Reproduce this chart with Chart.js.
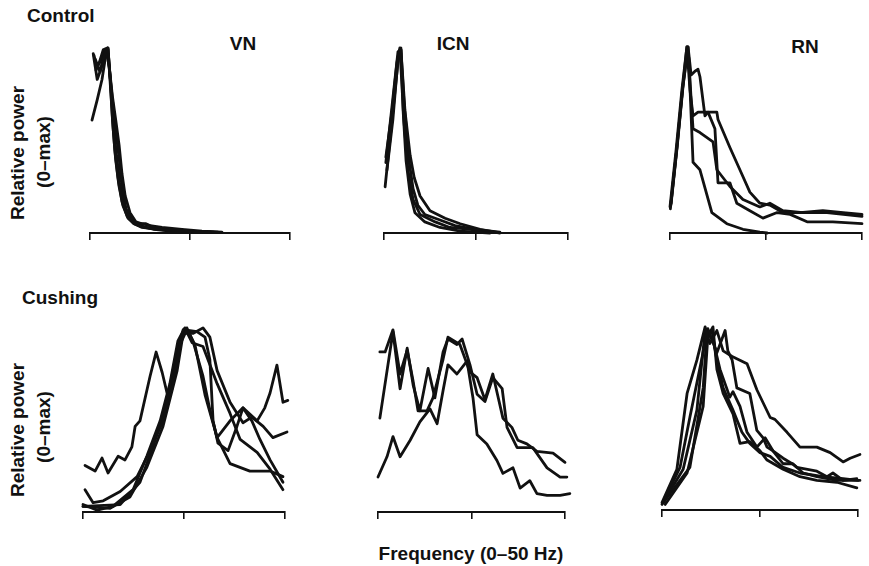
<!DOCTYPE html>
<html>
<head>
<meta charset="utf-8">
<script src="https://cdn.jsdelivr.net/npm/chart.js"></script>
<style>
  html, body { margin: 0; padding: 0; background: #fff; }
  body { width: 869px; height: 566px; position: relative; overflow: hidden; }
  .lbl { position: absolute; font-family: "Liberation Sans", Arial, sans-serif; font-weight: bold;
         font-size: 19px; line-height: 19px; color: #111; white-space: nowrap; }
  .c { transform: translate(-50%, -50%); }
  .v { transform: translate(-50%, -50%) rotate(-90deg); }
  .panel { position: absolute; }
</style>
</head>
<body>

<div class="lbl" style="left:27px; top:6px;">Control</div>
<div class="lbl" style="left:22px; top:288px;">Cushing</div>
<div class="lbl c" style="left:243px; top:43px;">VN</div>
<div class="lbl c" style="left:453px; top:43px;">ICN</div>
<div class="lbl c" style="left:805px; top:46px;">RN</div>
<div class="lbl v" style="left:17px; top:153px;">Relative power</div>
<div class="lbl v" style="left:43px; top:152px;">(0–max)</div>
<div class="lbl v" style="left:17px; top:430px;">Relative power</div>
<div class="lbl v" style="left:43px; top:427px;">(0–max)</div>
<div class="lbl c" style="left:471px; top:553px;">Frequency (0–50 Hz)</div>

<script>
// 주파수(Hz) / 상대 파워(0-max) 데이터 — 각 곡선은 [Hz, power] 쌍
const xTicks = [0, 25, 50];

// Control - VN
const ctrlVN1 = [[0.8,0.97],[1.8,0.83],[2.8,0.89],[3.8,0.98],[4.5,1.0],[5.1,0.82],[5.6,0.62],[6.2,0.45],[7,0.3],[8,0.17],[9.3,0.09],[11,0.05],[13.5,0.03],[17,0.02],[22,0.01],[30,0.005]];
const ctrlVN2 = [[0.5,0.61],[1.8,0.72],[3,0.83],[3.8,0.94],[4.5,0.99],[5.2,0.8],[5.9,0.58],[6.6,0.42],[7.5,0.27],[8.5,0.15],[10,0.08],[12.5,0.04],[16,0.02],[22.5,0.005]];
const ctrlVN3 = [[1,0.96],[1.5,0.91],[2.3,0.92],[3.3,0.99],[4.3,1],[5,0.85],[5.7,0.7],[6.5,0.55],[7.3,0.4],[8.1,0.25],[9,0.13],[10.5,0.07],[12,0.05],[14,0.05],[16,0.03],[20,0.02],[25,0.01],[32,0.005]];
const ctrlVN4 = [[1.3,0.94],[2.5,0.87],[3.5,0.96],[4.5,1],[5.2,0.76],[5.8,0.56],[6.4,0.4],[7.2,0.26],[8.2,0.15],[9.5,0.08],[11,0.05],[13,0.03],[17,0.02],[23,0.01],[31,0.005]];
const ctrlVN5 = [[1.5,0.88],[2.8,0.94],[4,0.99],[4.8,0.9],[5.6,0.74],[6.5,0.6],[7.3,0.47],[8,0.32],[8.8,0.2],[10,0.11],[11.5,0.06],[13,0.05],[15,0.04],[18,0.03],[23,0.02],[28,0.01],[33,0.005]];

// Control - ICN
const ctrlICN1 = [[0.3,0.25],[1.6,0.5],[3,0.77],[4.1,0.98],[4.6,1],[5.2,0.66],[6,0.39],[7.1,0.21],[8.4,0.11],[11.1,0.06],[15.2,0.03],[20.7,0.01],[28.8,0]];
const ctrlICN2 = [[0.5,0.41],[2.2,0.66],[3.5,0.92],[4.3,1],[5.4,0.61],[6.5,0.34],[7.9,0.18],[9.8,0.1],[13.9,0.06],[17.9,0.03],[23.4,0.02],[28.8,0.005]];
const ctrlICN3 = [[0.8,0.34],[2.4,0.61],[3.8,0.94],[4.6,0.99],[5.7,0.66],[7.1,0.42],[8.2,0.3],[9.8,0.2],[12.5,0.12],[16.6,0.08],[20.7,0.05],[26.1,0.02],[31.5,0]];
const ctrlICN4 = [[0.5,0.38],[2.2,0.69],[3.8,0.98],[4.6,0.99],[5.4,0.72],[6.8,0.39],[7.9,0.24],[9.2,0.15],[11.1,0.1],[15.2,0.07],[19.3,0.04],[24.7,0.02],[31.5,0.005]];

// Control - RN
const ctrlRN1 = [[0,0.14],[1.6,0.45],[3.1,0.77],[4.4,1],[4.9,0.94],[6,0.38],[7.8,0.34],[10.9,0.11],[14.8,0.05],[19,0.02],[23.4,0.005],[25.3,0]];
const ctrlRN2 = [[0.2,0.15],[1.8,0.46],[3.3,0.78],[4.7,1],[5.5,0.85],[6.5,0.87],[7.3,0.88],[7.8,0.84],[9.1,0.63],[9.9,0.65],[12.2,0.65],[12.5,0.61],[15.6,0.46],[18.2,0.34],[20.8,0.22],[23.4,0.16],[26,0.15],[29.4,0.11],[33.9,0.11],[39.8,0.12],[45.1,0.11],[50,0.1]];
const ctrlRN3 = [[0.1,0.13],[1.7,0.44],[3.2,0.76],[4.4,1],[5.2,0.77],[6,0.63],[7.3,0.65],[9.9,0.65],[11.7,0.56],[12.5,0.27],[15.6,0.27],[17.4,0.16],[20.8,0.12],[24.2,0.08],[27.9,0.11],[31.3,0.1],[35.7,0.06],[42.4,0.06],[50,0.05]];
const ctrlRN4 = [[0.3,0.16],[1.9,0.47],[3.4,0.79],[4.7,1],[5.5,0.72],[6,0.56],[7.8,0.54],[11.2,0.49],[12.2,0.34],[15.6,0.25],[19,0.18],[23.4,0.14],[26,0.16],[29.4,0.12],[34.6,0.11],[40.9,0.11],[50,0.09]];

// Cushing - VN
const cushVN1 = [[0.5,0.25],[3,0.22],[4.7,0.29],[6.2,0.21],[8.7,0.3],[10.4,0.28],[12.1,0.35],[12.9,0.46],[14.1,0.49],[16.6,0.73],[18.1,0.86],[19.6,0.75],[20.8,0.64],[22,0.66],[24,0.9],[25.7,0.98],[27.7,0.9],[30.2,0.63],[33.2,0.4],[36.4,0.49],[39.6,0.56],[43.1,0.49],[45,0.56],[46.3,0.64],[48,0.79],[49.5,0.59],[50.7,0.6]];
const cushVN2 = [[0.5,0.12],[2.5,0.05],[5,0.06],[9.2,0.11],[13.4,0.19],[16.6,0.33],[19.8,0.49],[22.3,0.73],[24,0.91],[25.7,0.99],[27.2,0.92],[29.7,0.73],[31.4,0.55],[33.2,0.4],[36.4,0.26],[41.3,0.22],[46.3,0.22],[49.5,0.19]];
const cushVN3 = [[0,0.04],[3.5,0.01],[7.4,0.03],[12.4,0.12],[15.8,0.3],[19.1,0.49],[21.5,0.69],[23.5,0.92],[25.2,0.99],[27,0.91],[29.7,0.89],[33.2,0.69],[36.4,0.53],[38.9,0.39],[43.1,0.32],[46.3,0.23],[49.5,0.12]];
const cushVN4 = [[0,0.03],[6.7,0.02],[11.6,0.08],[15.8,0.24],[19.8,0.46],[23.3,0.76],[24.8,0.96],[27.2,0.96],[29.7,0.99],[31.4,0.94],[33.2,0.76],[36.4,0.59],[39.6,0.48],[41.8,0.51],[44.6,0.46],[47,0.4],[50.5,0.43]];
const cushVN5 = [[0,0.03],[9.2,0.04],[14.1,0.16],[17.3,0.35],[20.8,0.59],[22.8,0.82],[24.8,0.98],[28.2,0.97],[30.2,0.94],[31.4,0.82],[32.2,0.49],[33.4,0.37],[35.9,0.33],[38.1,0.46],[39.6,0.56],[41.8,0.49],[43.8,0.39],[46.3,0.28],[49.5,0.16]];

// Cushing - ICN
const cushICN1 = [[0.5,0.87],[1.9,0.87],[4,0.99],[5.9,0.75],[7.8,0.88],[9.4,0.71],[10.7,0.55],[13.1,0.55],[14.7,0.62],[17.4,0.83],[18.7,0.95],[21.9,0.91],[24.6,0.76],[26.5,0.73],[28.6,0.61],[30.7,0.75],[33.4,0.51],[35.8,0.46],[37.4,0.39],[39.8,0.37],[42.5,0.33],[46.8,0.32],[50,0.27]];
const cushICN2 = [[0.5,0.51],[4,0.98],[5.9,0.67],[7.8,0.89],[9.4,0.69],[11.2,0.55],[13.4,0.78],[15.2,0.62],[17.4,0.87],[18.7,0.94],[21.1,0.91],[22.5,0.94],[24.6,0.8],[26.5,0.64],[28.6,0.6],[30.7,0.73],[33.2,0.67],[34.5,0.46],[37.2,0.35],[41.4,0.35],[45.2,0.24],[48.7,0.19],[50.5,0.19]];
const cushICN3 = [[0,0.19],[2.4,0.3],[4,0.41],[5.9,0.3],[8.6,0.39],[11.2,0.49],[13.9,0.56],[15.8,0.48],[17.4,0.66],[18.7,0.8],[21.1,0.75],[23.8,0.82],[25.4,0.62],[26.5,0.42],[29.1,0.37],[31.8,0.28],[33.4,0.21],[36.1,0.24],[38,0.13],[40.6,0.17],[42.5,0.1],[45.2,0.09],[48.7,0.09],[51.3,0.1]];

// Cushing - RN
const cushRN1 = [[0,0.04],[3.8,0.22],[6.4,0.63],[8.9,0.81],[11,0.99],[12.2,0.9],[14,0.97],[15.6,0.86],[17.9,0.83],[21.7,0.79],[24.2,0.65],[27.6,0.5],[28.8,0.49],[31.9,0.42],[35.2,0.34],[39.5,0.34],[42.9,0.31],[46.2,0.26],[48,0.28],[50.5,0.3]];
const cushRN2 = [[0.3,0.04],[4.6,0.23],[7.1,0.5],[9.7,0.77],[11.7,0.98],[14,0.85],[16.1,0.97],[16.8,0.86],[17.9,0.81],[19.1,0.66],[22.4,0.63],[24.2,0.43],[25.8,0.39],[26.8,0.34],[28.3,0.32],[30.9,0.25],[33.4,0.25],[36,0.2],[39.5,0.18],[44.6,0.16],[50.5,0.16]];
const cushRN3 = [[0.3,0.04],[5.4,0.22],[8.9,0.54],[11,0.97],[13,0.92],[14.8,0.76],[17.3,0.61],[18.1,0.64],[19.9,0.56],[21.7,0.42],[24.2,0.34],[26.3,0.39],[28.3,0.32],[30.9,0.28],[33.2,0.25],[34.4,0.23],[39.5,0.21],[42.1,0.18],[43.6,0.2],[46.2,0.16],[49.7,0.17]];
const cushRN4 = [[0.8,0.03],[6.4,0.2],[10.5,0.56],[11.7,0.94],[13,0.99],[14,0.76],[15.6,0.63],[18.1,0.52],[19.9,0.36],[22.4,0.37],[25,0.32],[26.8,0.27],[30.9,0.22],[35.2,0.18],[39.5,0.16],[44.6,0.15],[49.7,0.12]];
const cushRN5 = [[0,0.03],[7.1,0.23],[10.5,0.66],[11.5,0.97],[12.8,0.96],[14,0.81],[15.6,0.66],[18.1,0.54],[20.4,0.42],[22.4,0.36],[25,0.31],[27.6,0.29],[30.9,0.23],[35.2,0.2],[41.1,0.18],[46.2,0.17],[50,0.16]];

// 패널 배치 (픽셀): 0 Hz 위치, 50 Hz 위치, 최대값 위치, 축 위치
const panels = [
  { x0: 90,  x1: 290, top: 48,  axis: 233, series: [ctrlVN1, ctrlVN2, ctrlVN3, ctrlVN4, ctrlVN5] },
  { x0: 384, x1: 568, top: 48,  axis: 233, series: [ctrlICN1, ctrlICN2, ctrlICN3, ctrlICN4] },
  { x0: 670, x1: 862, top: 47,  axis: 233, series: [ctrlRN1, ctrlRN2, ctrlRN3, ctrlRN4] },
  { x0: 83,  x1: 285, top: 326, axis: 512, series: [cushVN1, cushVN2, cushVN3, cushVN4, cushVN5] },
  { x0: 378, x1: 565, top: 328, axis: 512, series: [cushICN1, cushICN2, cushICN3] },
  { x0: 662, x1: 858, top: 325, axis: 510, series: [cushRN1, cushRN2, cushRN3, cushRN4, cushRN5] }
];

const PAD = 8;
const AXIS_H = 10;

function makePanel(p) {
  const canvas = document.createElement('canvas');
  const w = (p.x1 - p.x0) + PAD * 2;
  const h = (p.axis - p.top) + PAD + AXIS_H;
  canvas.className = 'panel';
  canvas.width = w;
  canvas.height = h;
  canvas.style.left = (p.x0 - PAD) + 'px';
  canvas.style.top = (p.top - PAD) + 'px';
  canvas.style.width = w + 'px';
  canvas.style.height = h + 'px';
  document.body.appendChild(canvas);

  new Chart(canvas.getContext('2d'), {
    type: 'line',
    data: {
      datasets: p.series.map(s => ({
        data: s.map(([x, y]) => ({ x, y })),
        borderColor: '#111',
        borderWidth: 2.8,
        borderJoinStyle: 'round',
        borderCapStyle: 'round',
        pointRadius: 0,
        tension: 0,
        fill: false,
        clip: false
      }))
    },
    options: {
      responsive: false,
      animation: false,
      events: [],
      layout: { padding: { left: PAD, right: PAD, top: PAD, bottom: 0 } },
      plugins: { legend: { display: false }, tooltip: { enabled: false } },
      scales: {
        x: {
          type: 'linear',
          min: 0,
          max: 50,
          afterBuildTicks: scale => { scale.ticks = xTicks.map(v => ({ value: v })); },
          afterFit: scale => { scale.height = AXIS_H; },
          ticks: { display: false },
          grid: { drawOnChartArea: false, drawTicks: true, tickLength: 7, color: '#111', lineWidth: 1.6 },
          border: { display: true, color: '#111', width: 2 }
        },
        y: {
          display: false,
          min: 0,
          max: 1
        }
      }
    }
  });
}

panels.forEach(makePanel);
</script>
</body>
</html>
